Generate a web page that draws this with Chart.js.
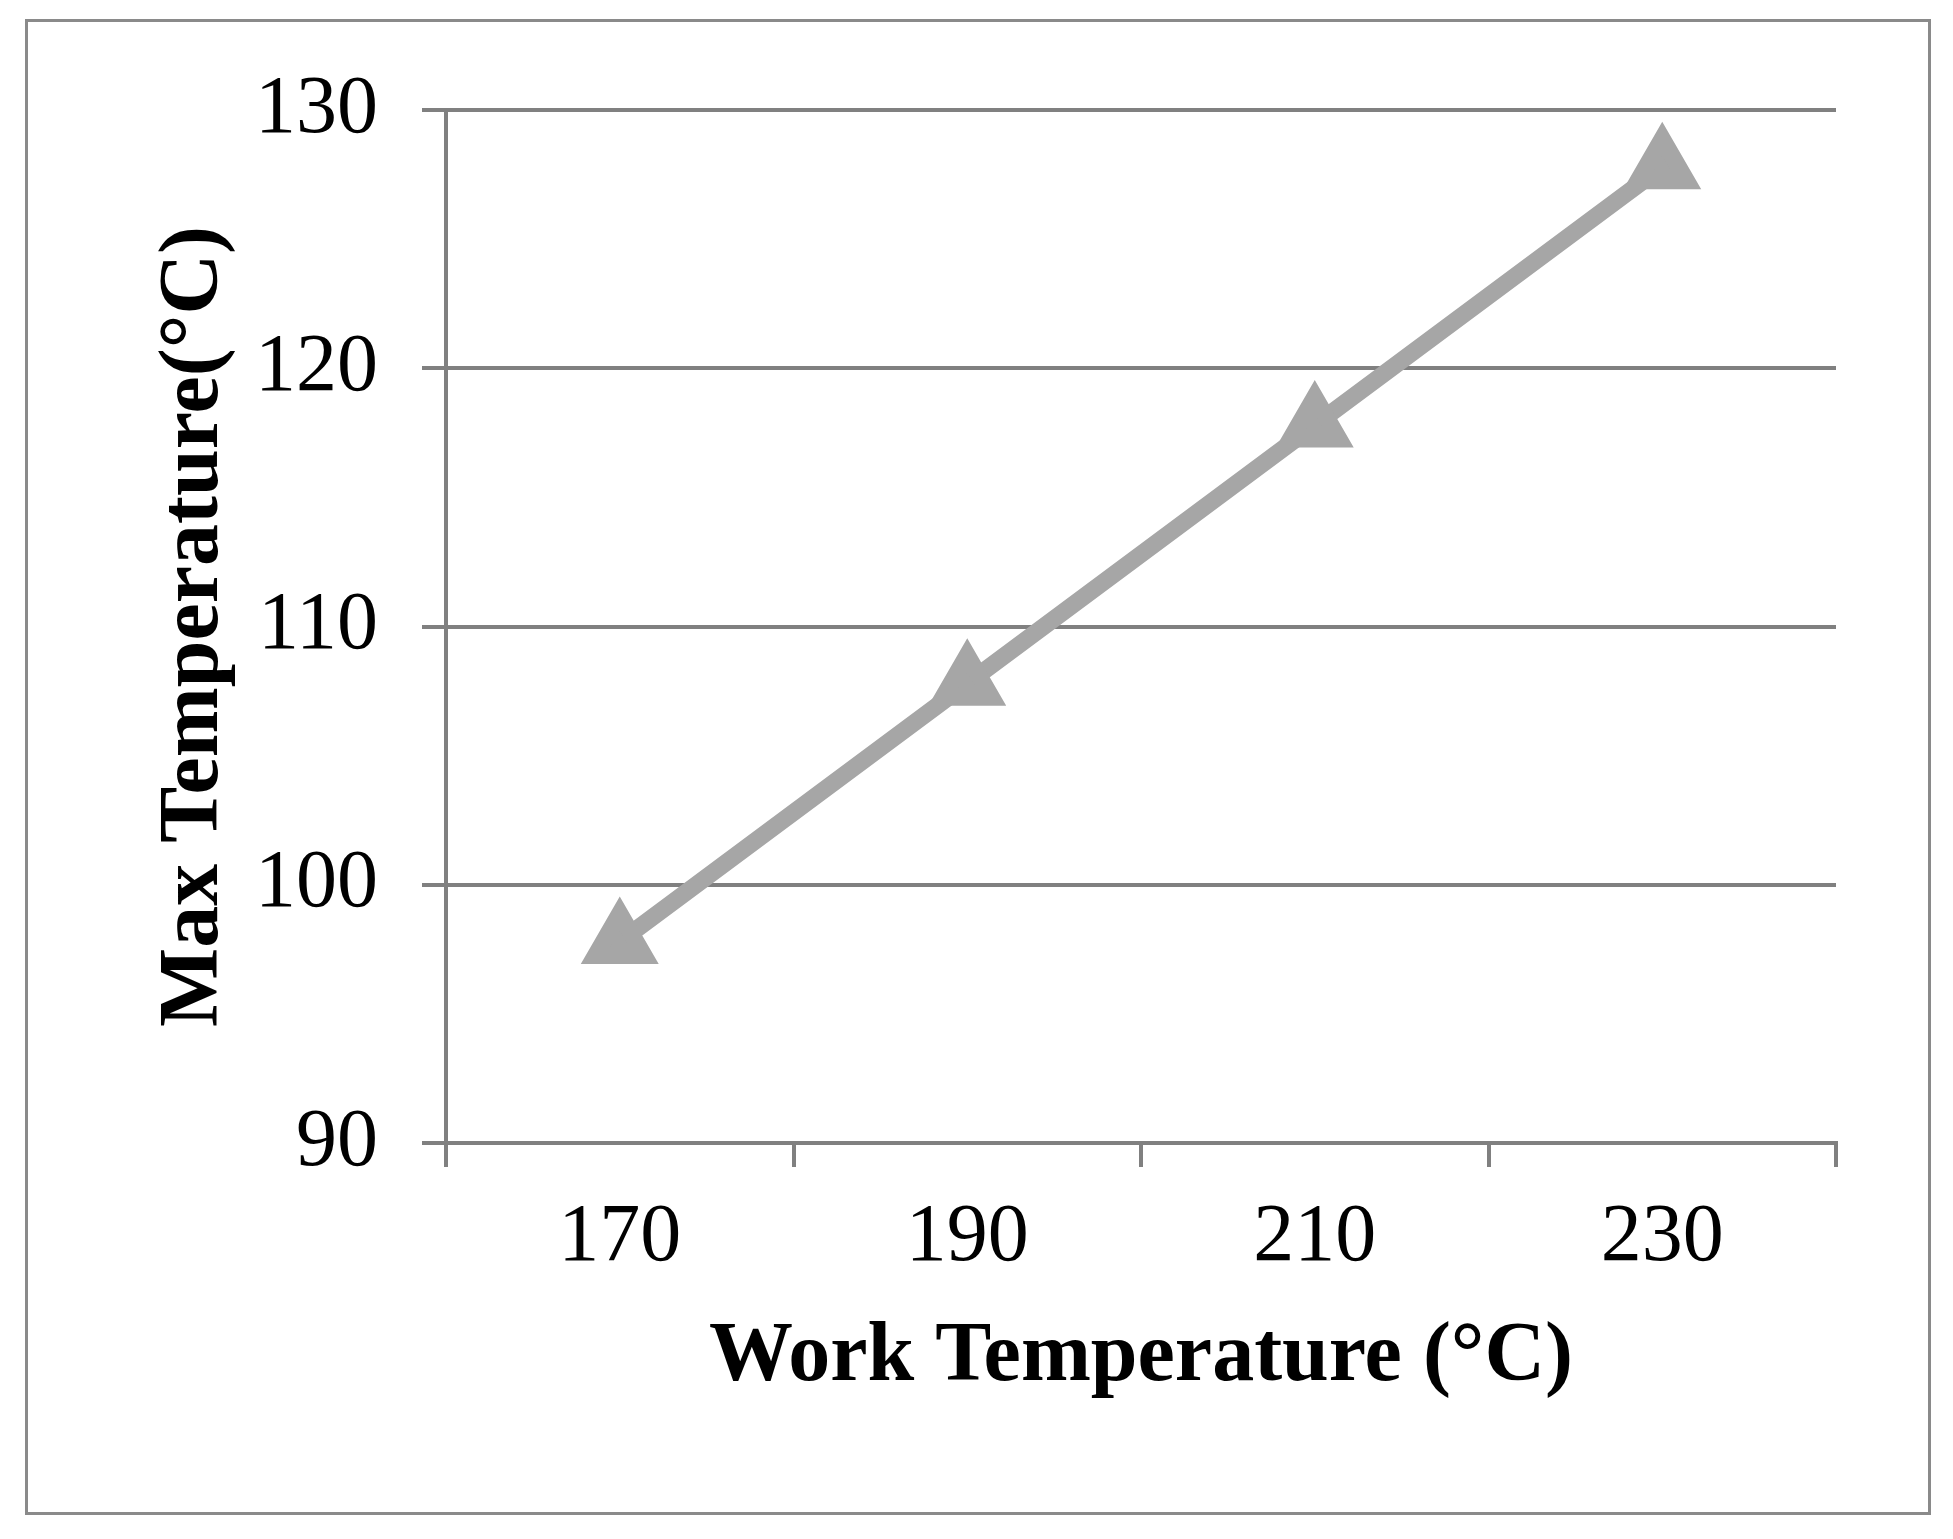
<!DOCTYPE html>
<html><head><meta charset="utf-8">
<script src="https://cdn.jsdelivr.net/npm/chart.js@4"></script>
<style>
html,body{margin:0;padding:0;background:#fff;}
#wrap{position:absolute;left:0;top:0;width:1953px;height:1539px;}
#frame{position:absolute;left:25px;top:19px;width:1900px;height:1490px;border:3px solid #8a8a8a;}
</style></head><body>
<div id="frame"></div>
<div id="wrap"><canvas id="c"></canvas></div>
<script>
const categories = ["170","190","210","230"];
const maxTemp = [97.8, 107.8, 117.8, 127.8];
const yTicks = [90,100,110,120,130];

const font = "'Liberation Serif','Times New Roman',serif";
new Chart(document.getElementById('c'), {
  type: 'line',
  data: { labels: categories, datasets: [{
    data: maxTemp, borderColor:'#a6a6a6', backgroundColor:'#a6a6a6',
    borderWidth:17, pointStyle:'triangle', pointRadius:28, pointHoverRadius:28, tension:0
  }]},
  options: {
    responsive:true, maintainAspectRatio:false, animation:false,
    layout:{padding:{left:145,top:110,right:117,bottom:130}},
    plugins:{legend:{display:false},tooltip:{enabled:false}},
    scales:{
      x:{ offset:true,
        grid:{offset:true, display:true, drawOnChartArea:false, drawTicks:true, tickLength:24, color:'#808080', lineWidth:4},
        border:{display:true,color:'#808080',width:4},
        ticks:{color:'#000', font:{family:font,size:82}, padding:22},
        title:{display:true,text:'Work Temperature (°C)',color:'#000',font:{family:font,size:84,weight:'bold'},padding:{top:10,bottom:0}},
        afterFit(s){ s.height = 266; }
      },
      y:{ min:90, max:130,
        afterBuildTicks(s){ s.ticks = yTicks.map(v=>({value:v})); },
        grid:{color:'#808080', lineWidth:4, tickLength:24},
        border:{display:true,color:'#808080',width:4},
        ticks:{color:'#000', font:{family:font,size:82}, padding:44},
        title:{display:true,text:'Max Temperature(°C)',color:'#000',font:{family:font,size:84,weight:'bold'},padding:0},
        afterFit(s){ s.width = 301; }
      }
    }
  }
});
</script></body></html>
